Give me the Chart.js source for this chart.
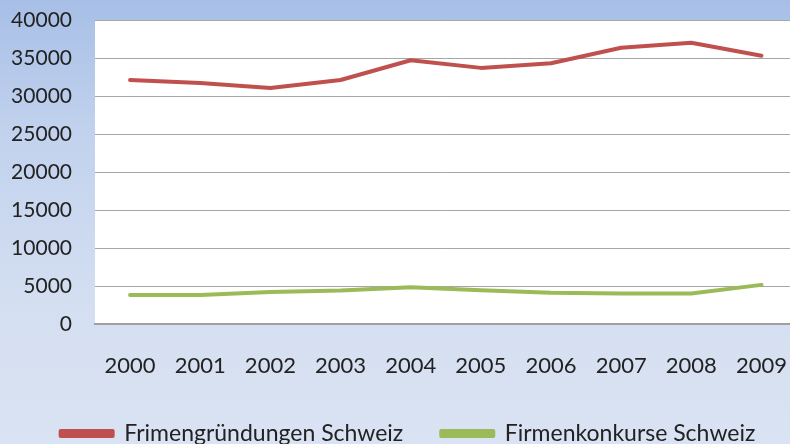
<!DOCTYPE html>
<html>
<head>
<meta charset="utf-8">
<script src="https://cdn.jsdelivr.net/npm/chart.js@4"></script>
<style>
  html, body { margin: 0; padding: 0; overflow: hidden; }
  #wrap {
    width: 816px; height: 444px; position: relative;
    background: linear-gradient(to bottom, #a7bfe6 0%, #c2d2ee 30%, #d4dff1 70%, #dae3f3 100%);
  }
  canvas { display: block; }
</style>
</head>
<body>
<div id="wrap"><canvas id="chart" width="816" height="444"></canvas></div>
<script>
// --- data ---
const years = ['2000', '2001', '2002', '2003', '2004', '2005', '2006', '2007', '2008', '2009'];
const gruendungen = [32100, 31700, 31050, 32100, 34700, 33700, 34300, 36350, 37000, 35300];
const konkurse = [3800, 3800, 4200, 4400, 4850, 4450, 4100, 4000, 4000, 5150];
const yTicks = [0, 5000, 10000, 15000, 20000, 25000, 30000, 35000, 40000];

// white plot area
const plotBg = {
  id: 'plotBg',
  beforeDraw(chart) {
    const a = chart.chartArea;
    const c = chart.ctx;
    c.save();
    c.fillStyle = '#ffffff';
    c.fillRect(a.left, a.top, a.right - a.left, a.bottom - a.top);
    c.restore();
  }
};

const ctx = document.getElementById('chart').getContext('2d');
new Chart(ctx, {
  type: 'line',
  data: {
    labels: years,
    datasets: [
      {
        label: 'Frimengründungen Schweiz',
        data: gruendungen,
        borderColor: '#c0504d',
        backgroundColor: '#c0504d',
        borderWidth: 4,
        pointRadius: 0,
        tension: 0,
        borderCapStyle: 'round',
        borderJoinStyle: 'round'
      },
      {
        label: 'Firmenkonkurse Schweiz',
        data: konkurse,
        borderColor: '#9bbb59',
        backgroundColor: '#9bbb59',
        borderWidth: 4,
        pointRadius: 0,
        tension: 0,
        borderCapStyle: 'round',
        borderJoinStyle: 'round'
      }
    ]
  },
  options: {
    responsive: false,
    animation: false,
    devicePixelRatio: 1,
    layout: { padding: { top: 20, right: 0, bottom: -11, left: 0 } },
    scales: {
      x: {
        offset: true,
        grid: { display: false, drawTicks: false },
        border: { display: true, color: '#a0a0a0', width: 2 },
        ticks: { color: '#222222', font: { family: 'Lato', size: 22 }, padding: 29, maxRotation: 0, autoSkip: false },
        afterFit(s) { s.height = 60; }
      },
      y: {
        min: 0,
        max: 40000,
        afterBuildTicks(s) { s.ticks = yTicks.map(v => ({ value: v })); },
        grid: { color: '#a6a6a6', lineWidth: 1, drawTicks: true, tickLength: 23, tickColor: 'rgba(0,0,0,0)' },
        border: { display: false },
        ticks: {
          color: '#222222',
          font: { family: 'Lato', size: 21 },
          padding: 0,
          callback: v => String(v)
        },
        afterFit(s) { s.width = 95; }
      }
    },
    plugins: {
      legend: {
        position: 'bottom',
        labels: {
          color: '#222222',
          font: { family: 'Lato', size: 23 },
          boxWidth: 52,
          boxHeight: 5,
          padding: 38
        }
      },
      tooltip: { enabled: false }
    }
  },
  plugins: [plotBg]
});
</script>
</body>
</html>
